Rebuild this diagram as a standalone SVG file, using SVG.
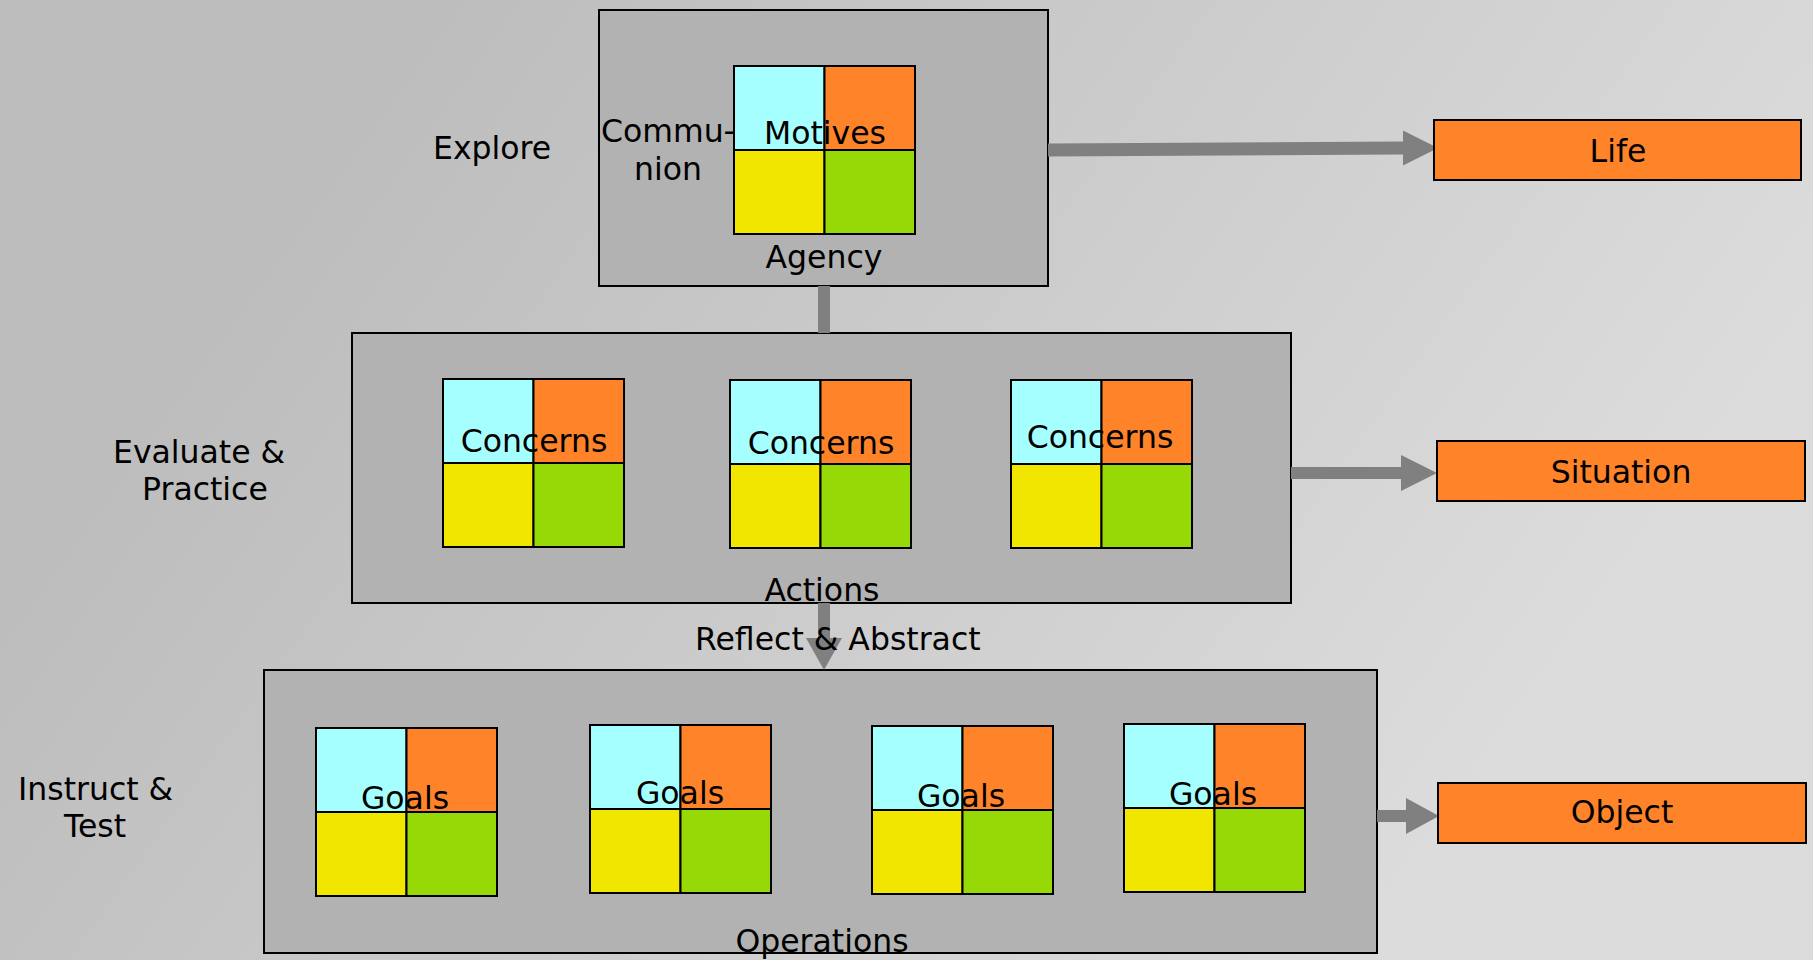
<svg xmlns="http://www.w3.org/2000/svg" xmlns:xlink="http://www.w3.org/1999/xlink" width="1813" height="960" viewBox="0 0 1813 960">
<style>
text{font-family:"DejaVu Sans","Verdana",sans-serif;font-size:31.5px;fill:#000}
.mid{text-anchor:middle}
.layer{fill:#b2b2b2;stroke:#000;stroke-width:2}
.out{fill:#ff8329;stroke:#000;stroke-width:2}
.c{stroke:#000;stroke-width:2}
.bar{fill:#808080}
</style>
<defs>
<linearGradient id="bg" gradientUnits="userSpaceOnUse" x1="450" y1="0" x2="1500" y2="750">
<stop offset="0" stop-color="#bdbdbd"/>
<stop offset="1" stop-color="#dcdcdc"/>
</linearGradient>
<g id="quad">
<rect class="c" x="0" y="0" width="90.5" height="84" fill="#a6ffff"/>
<rect class="c" x="90.5" y="0" width="90.5" height="84" fill="#ff8329"/>
<rect class="c" x="0" y="84" width="90.5" height="84" fill="#f0e600"/>
<rect class="c" x="90.5" y="84" width="90.5" height="84" fill="#96d906"/>
</g>
</defs>
<rect width="1813" height="960" fill="url(#bg)"/>

<g id="labels">
<text x="433" y="159">Explore</text>
<text x="113" y="463">Evaluate &amp;</text>
<text x="142" y="500">Practice</text>
<text x="18" y="800">Instruct &amp;</text>
<text x="64" y="837">Test</text>
</g>

<g id="layer-explore">
<rect class="layer" x="599" y="10" width="449" height="276"/>
</g>
<g id="layer-actions">
<rect class="layer" x="352" y="333" width="939" height="270"/>
<text class="mid" x="822" y="601">Actions</text>
</g>
<g id="layer-operations">
<rect class="layer" x="264" y="670" width="1113" height="283"/>
<text class="mid" x="822" y="952">Operations</text>
</g>

<g id="connectors">
<rect class="bar" x="818" y="286" width="12" height="47"/>
<polygon class="bar" points="1048,143.5 1403,141.5 1403,154.5 1048,156.5"/>
<polygon class="bar" points="1403,130.5 1438,148 1403,165.5"/>
<rect class="bar" x="1291" y="467" width="111" height="12"/>
<polygon class="bar" points="1401,455 1437,473 1401,491"/>
<rect class="bar" x="1377" y="810" width="30" height="12"/>
<polygon class="bar" points="1406,798 1439,816 1406,834"/>
<rect class="bar" x="818" y="603" width="12" height="36"/>
<polygon class="bar" points="806,638 842,638 824,670"/>
<text x="695" y="650">Reflect &amp; Abstract</text>
</g>

<g id="motives">
<use xlink:href="#quad" transform="translate(734,66)"/>
<text class="mid" x="825" y="144">Motives</text>
<text class="mid" x="668" y="142">Commu-</text>
<text class="mid" x="668" y="180">nion</text>
<text class="mid" x="824" y="268">Agency</text>
</g>

<g id="concerns-1">
<use xlink:href="#quad" transform="translate(443,379)"/>
<text class="mid" x="534" y="452">Concerns</text>
</g>
<g id="concerns-2">
<use xlink:href="#quad" transform="translate(730,380)"/>
<text class="mid" x="821" y="454">Concerns</text>
</g>
<g id="concerns-3">
<use xlink:href="#quad" transform="translate(1011,380)"/>
<text class="mid" x="1100" y="448">Concerns</text>
</g>

<g id="goals-1">
<use xlink:href="#quad" transform="translate(316,728)"/>
<text class="mid" x="405" y="809">Goals</text>
</g>
<g id="goals-2">
<use xlink:href="#quad" transform="translate(590,725)"/>
<text class="mid" x="680" y="804">Goals</text>
</g>
<g id="goals-3">
<use xlink:href="#quad" transform="translate(872,726)"/>
<text class="mid" x="961" y="807">Goals</text>
</g>
<g id="goals-4">
<use xlink:href="#quad" transform="translate(1124,724)"/>
<text class="mid" x="1213" y="805">Goals</text>
</g>

<g id="life">
<rect class="out" x="1434" y="120" width="367" height="60"/>
<text class="mid" x="1618" y="162">Life</text>
</g>
<g id="situation">
<rect class="out" x="1437" y="441" width="368" height="60"/>
<text class="mid" x="1621" y="483">Situation</text>
</g>
<g id="object">
<rect class="out" x="1438" y="783" width="368" height="60"/>
<text class="mid" x="1622" y="823">Object</text>
</g>
</svg>
